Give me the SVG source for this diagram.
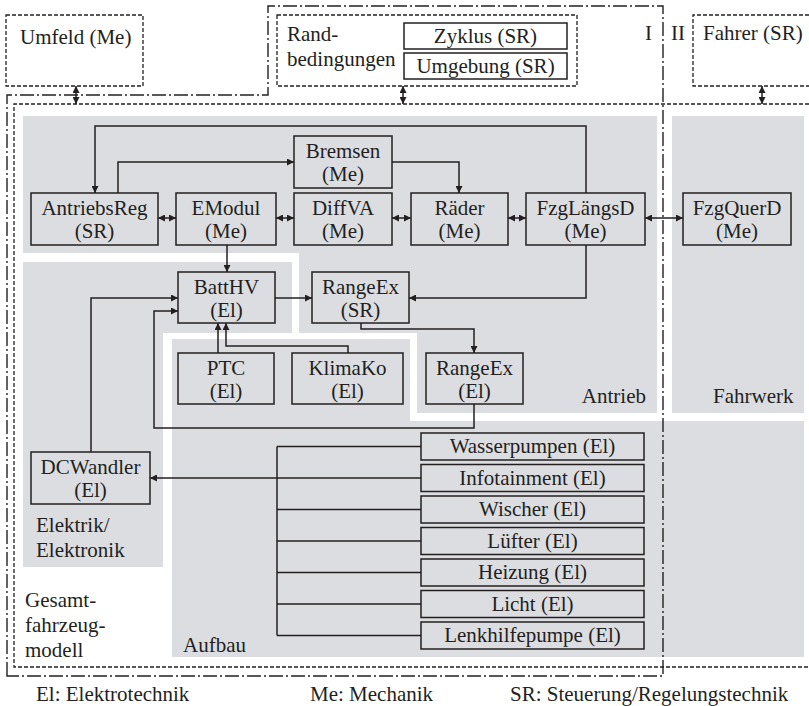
<svg xmlns="http://www.w3.org/2000/svg" width="809" height="706" viewBox="0 0 809 706" font-family="Liberation Serif, Times New Roman, Times, serif">
  <style>
    .t { font-size: 21px; fill: #231f20; }
    .c { text-anchor: middle; }
    .r { text-anchor: end; }
    .box { fill: none; stroke: #231f20; stroke-width: 1.5; }
    .panel { fill: #dcdde0; stroke: none; }
    .wire { fill: none; stroke: #231f20; stroke-width: 1.5; }
    .arr { marker-end: url(#ah); }
    .dbl { marker-start: url(#ah); marker-end: url(#ah); }
    .dash { fill: none; stroke: #231f20; stroke-width: 1.3; stroke-dasharray: 4 2; }
    .dashdot { fill: none; stroke: #231f20; stroke-width: 1.4; stroke-dasharray: 14 3 2 3; }
  </style>
  <defs>
    <marker id="ah" viewBox="0 0 10 10" refX="10" refY="5" markerUnits="userSpaceOnUse" markerWidth="8" markerHeight="7" orient="auto-start-reverse">
      <path d="M0,0 L10,5 L0,10 z" fill="#231f20"/>
    </marker>
  </defs>

  <rect width="809" height="706" fill="#ffffff"/>

  <!-- subsystem panels -->
  <g id="panels">
    <path id="panel-antrieb" class="panel" d="M23,116 H657 V413 H417 V333 H299 V253 H23 Z"/>
    <rect id="panel-fahrwerk" class="panel" x="672" y="116" width="132" height="297"/>
    <path id="panel-ee" class="panel" d="M23,262 H292 V333 H163 V567 H23 Z"/>
    <path id="panel-aufbau" class="panel" d="M172,339 H410 V421 H804 V657 H172 Z"/>
  </g>

  <!-- system boundaries -->
  <g id="boundaries">
    <path class="dashdot" d="M7,676 V95 H268 V6 H663 V676 Z"/>
    <path class="dash" d="M809,104 H14 V667 H809"/>
  </g>

  <!-- environment / boundary-condition blocks -->
  <g id="umfeld">
    <rect class="dash" x="6" y="15" width="137" height="71"/>
    <text class="t" x="20" y="44">Umfeld (Me)</text>
  </g>
  <g id="randbedingungen">
    <rect class="dash" x="277" y="15" width="300" height="71"/>
    <text class="t" x="287" y="41">Rand-</text>
    <text class="t" x="287" y="66">bedingungen</text>
  </g>
  <g id="zyklus">
    <rect class="box" x="404" y="23" width="163" height="26"/>
    <text class="t c" x="485.5" y="43">Zyklus (SR)</text>
  </g>
  <g id="umgebung">
    <rect class="box" x="404" y="53" width="163" height="26"/>
    <text class="t c" x="485.5" y="73">Umgebung (SR)</text>
  </g>
  <g id="fahrer">
    <path class="dash" d="M809,15 H693 V86 H809"/>
    <text class="t" x="703" y="40">Fahrer (SR)</text>
  </g>
  <g id="region-labels">
    <text class="t" x="645" y="40">I</text>
    <text class="t" x="671" y="40">II</text>
  </g>

  <!-- Antrieb -->
  <g id="antriebsreg">
    <rect class="box" x="31" y="193" width="127" height="52"/>
    <text class="t c" x="94.5" y="215">AntriebsReg</text>
    <text class="t c" x="94.5" y="238">(SR)</text>
  </g>
  <g id="emodul">
    <rect class="box" x="176" y="193" width="100" height="52"/>
    <text class="t c" x="226" y="215">EModul</text>
    <text class="t c" x="226" y="238">(Me)</text>
  </g>
  <g id="diffva">
    <rect class="box" x="294" y="193" width="98" height="52"/>
    <text class="t c" x="343" y="215">DiffVA</text>
    <text class="t c" x="343" y="238">(Me)</text>
  </g>
  <g id="raeder">
    <rect class="box" x="411" y="193" width="97" height="52"/>
    <text class="t c" x="459.5" y="215">Räder</text>
    <text class="t c" x="459.5" y="238">(Me)</text>
  </g>
  <g id="fzglaengsd">
    <rect class="box" x="526" y="193" width="119" height="52"/>
    <text class="t c" x="585.5" y="215">FzgLängsD</text>
    <text class="t c" x="585.5" y="238">(Me)</text>
  </g>
  <g id="bremsen">
    <rect class="box" x="294" y="136" width="98" height="52"/>
    <text class="t c" x="343" y="158">Bremsen</text>
    <text class="t c" x="343" y="181">(Me)</text>
  </g>
  <g id="rangeex-sr">
    <rect class="box" x="312" y="272" width="97" height="51"/>
    <text class="t c" x="360.5" y="294">RangeEx</text>
    <text class="t c" x="360.5" y="317">(SR)</text>
  </g>
  <g id="rangeex-el">
    <rect class="box" x="426" y="353" width="97" height="51"/>
    <text class="t c" x="474.5" y="375">RangeEx</text>
    <text class="t c" x="474.5" y="398">(El)</text>
  </g>
  <text class="t r" x="646" y="403">Antrieb</text>

  <!-- Fahrwerk -->
  <g id="fzgquerd">
    <rect class="box" x="683" y="193" width="108" height="52"/>
    <text class="t c" x="737" y="215">FzgQuerD</text>
    <text class="t c" x="737" y="238">(Me)</text>
  </g>
  <text class="t" x="713" y="403">Fahrwerk</text>

  <!-- Elektrik/Elektronik -->
  <g id="batthv">
    <rect class="box" x="178" y="272" width="97" height="51"/>
    <text class="t c" x="226.5" y="294">BattHV</text>
    <text class="t c" x="226.5" y="317">(El)</text>
  </g>
  <g id="dcwandler">
    <rect class="box" x="31" y="452" width="119" height="52"/>
    <text class="t c" x="90.5" y="474">DCWandler</text>
    <text class="t c" x="90.5" y="497">(El)</text>
  </g>
  <text class="t" x="36" y="532">Elektrik/</text>
  <text class="t" x="36" y="557">Elektronik</text>

  <!-- Aufbau -->
  <g id="ptc">
    <rect class="box" x="178" y="353" width="96" height="51"/>
    <text class="t c" x="226" y="375">PTC</text>
    <text class="t c" x="226" y="398">(El)</text>
  </g>
  <g id="klimako">
    <rect class="box" x="292" y="353" width="111" height="51"/>
    <text class="t c" x="347.5" y="375">KlimaKo</text>
    <text class="t c" x="347.5" y="398">(El)</text>
  </g>
  <g id="wasserpumpen">
    <rect class="box" x="421" y="433" width="223" height="27"/>
    <text class="t c" x="532.5" y="453">Wasserpumpen (El)</text>
  </g>
  <g id="infotainment">
    <rect class="box" x="421" y="464.5" width="223" height="27"/>
    <text class="t c" x="532.5" y="484.5">Infotainment (El)</text>
  </g>
  <g id="wischer">
    <rect class="box" x="421" y="496" width="223" height="27"/>
    <text class="t c" x="532.5" y="516">Wischer (El)</text>
  </g>
  <g id="luefter">
    <rect class="box" x="421" y="527.5" width="223" height="27"/>
    <text class="t c" x="532.5" y="547.5">Lüfter (El)</text>
  </g>
  <g id="heizung">
    <rect class="box" x="421" y="559" width="223" height="27"/>
    <text class="t c" x="532.5" y="579">Heizung (El)</text>
  </g>
  <g id="licht">
    <rect class="box" x="421" y="590.5" width="223" height="27"/>
    <text class="t c" x="532.5" y="610.5">Licht (El)</text>
  </g>
  <g id="lenkhilfepumpe">
    <rect class="box" x="421" y="622" width="223" height="27"/>
    <text class="t c" x="532.5" y="642">Lenkhilfepumpe (El)</text>
  </g>
  <text class="t" x="183" y="652">Aufbau</text>

  <text class="t" x="25" y="607">Gesamt-</text>
  <text class="t" x="25" y="632">fahrzeug-</text>
  <text class="t" x="25" y="657">modell</text>

  <!-- connectors -->
  <g id="connectors">
    <!-- interfaces to the outer blocks -->
    <line class="wire dbl" x1="76" y1="86" x2="76" y2="104"/>
    <line class="wire dbl" x1="403" y1="86" x2="403" y2="104"/>
    <line class="wire dbl" x1="762" y1="86" x2="762" y2="104"/>
    <!-- drivetrain chain -->
    <line class="wire dbl" x1="158" y1="218" x2="176" y2="218"/>
    <line class="wire dbl" x1="276" y1="218" x2="294" y2="218"/>
    <line class="wire dbl" x1="392" y1="218" x2="411" y2="218"/>
    <line class="wire dbl" x1="508" y1="218" x2="526" y2="218"/>
    <line class="wire dbl" x1="645" y1="218" x2="683" y2="218"/>
    <!-- feedback loops -->
    <path class="wire arr" d="M586,193 V126 H95 V193"/>
    <path class="wire arr" d="M118,193 V162 H294"/>
    <path class="wire arr" d="M392,162 H459 V193"/>
    <path class="wire arr" d="M586,245 V298 H409"/>
    <!-- power paths -->
    <line class="wire arr" x1="227" y1="245" x2="227" y2="272"/>
    <line class="wire arr" x1="275" y1="298" x2="312" y2="298"/>
    <path class="wire arr" d="M361,323 V329 H474 V353"/>
    <line class="wire arr" x1="218" y1="353" x2="218" y2="323"/>
    <path class="wire arr" d="M348,353 V346 H226 V323"/>
    <path class="wire arr" d="M91,452 V298 H178"/>
    <path class="wire arr" d="M474,404 V428 H154 V311 H178"/>
    <!-- consumer bus -->
    <path class="wire" d="M277,446.5 V635.5"/>
    <line class="wire" x1="277" y1="446.5" x2="421" y2="446.5"/>
    <line class="wire arr" x1="421" y1="478" x2="150" y2="478"/>
    <line class="wire" x1="277" y1="509.5" x2="421" y2="509.5"/>
    <line class="wire" x1="277" y1="541" x2="421" y2="541"/>
    <line class="wire" x1="277" y1="572.5" x2="421" y2="572.5"/>
    <line class="wire" x1="277" y1="604" x2="421" y2="604"/>
    <line class="wire" x1="277" y1="635.5" x2="421" y2="635.5"/>
  </g>

  <!-- legend -->
  <g id="legend">
    <text class="t" x="36" y="701">El: Elektrotechnik</text>
    <text class="t" x="310" y="701">Me: Mechanik</text>
    <text class="t" x="510" y="701">SR: Steuerung/Regelungstechnik</text>
  </g>
</svg>
